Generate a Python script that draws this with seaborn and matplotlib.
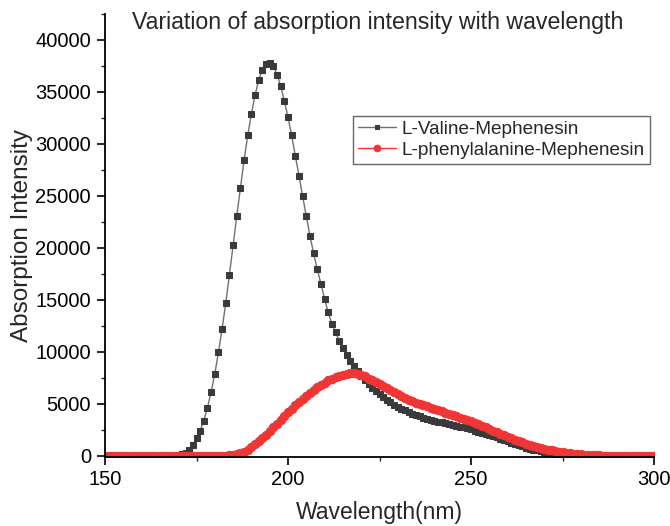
import numpy as np
import pandas as pd
import matplotlib
matplotlib.use("Agg")
import matplotlib.pyplot as plt
from matplotlib.ticker import MultipleLocator
import seaborn as sns

wavelength = list(range(150, 301))

valine = [0]*16 + [
    5, 10, 20, 40, 80, 170, 310, 580, 1060, 1690,            # 166-175
    2430, 3400, 4650, 6160, 7900, 9970, 12250, 14700, 17440, 20240,  # 176-185
    23080, 25780, 28450, 30820, 32900, 34700, 36150, 37140, 37700, 37810,  # 186-195
    37500, 36660, 35570, 34150, 32580, 30820, 28850, 26970, 24980, 23080,  # 196-205
    21150, 19490, 17950, 16550, 15100, 13800, 12700, 11900, 11050, 10350,  # 206-215
    9680, 9100, 8620, 8160, 7700, 7270, 6880, 6530, 6220, 5930,  # 216-225
    5660, 5420, 5180, 4950, 4740, 4550, 4380, 4220, 4070, 3930,  # 226-235
    3800, 3680, 3570, 3470, 3380, 3300, 3220, 3140, 3070, 2990,  # 236-245
    2910, 2830, 2740, 2650, 2550, 2450, 2350, 2250, 2140, 2020,  # 246-255
    1900, 1780, 1660, 1530, 1400, 1270, 1150, 1030, 920, 810,    # 256-265
    710, 620, 530, 450, 380, 320, 270, 220, 180, 150,            # 266-275
    120, 100, 80, 60, 50, 40, 30, 25, 20, 15,                    # 276-285
    12, 10, 10, 8, 8, 6, 6, 5, 5, 4, 4, 3, 3, 2, 2               # 286-300
]

phenylalanine = [0]*32 + [
    10, 30, 60, 110, 180, 290, 430, 620,                         # 182-189
    850, 1110, 1400, 1710, 2050, 2400, 2760, 3120, 3480, 3840,   # 190-199
    4190, 4530, 4860, 5180, 5490, 5790, 6070, 6340, 6600, 6840,  # 200-209
    7060, 7260, 7440, 7600, 7730, 7830, 7900, 7940, 7940, 7900,  # 210-219
    7800, 7680, 7450, 7260, 7070, 6880, 6690, 6500, 6310, 6130,  # 220-229
    5950, 5770, 5590, 5420, 5260, 5120, 4990, 4870, 4760, 4650,  # 230-239
    4540, 4420, 4300, 4180, 4060, 3940, 3820, 3700, 3580, 3460,  # 240-249
    3330, 3190, 3040, 2890, 2740, 2600, 2450, 2300, 2150, 2000,  # 250-259
    1850, 1710, 1580, 1450, 1320, 1200, 1080, 970, 870, 780,     # 260-269
    690, 610, 540, 470, 410, 360, 310, 270, 230, 190,            # 270-279
    160, 130, 110, 90, 70, 55, 45, 35, 30, 25,                   # 280-289
    20, 18, 16, 14, 12, 11, 10, 10, 10, 10, 10                   # 290-300
]

series_names = ["L-Valine-Mephenesin", "L-phenylalanine-Mephenesin"]
x_ticks = [150, 200, 250, 300]
y_ticks = list(range(0, 40001, 5000))

sns.set_style("ticks")
plt.rcParams["font.family"] = ["Liberation Sans", "DejaVu Sans"]

df = pd.DataFrame({
    "Wavelength": wavelength * 2,
    "Intensity": valine + phenylalanine,
    "Series": [series_names[0]] * len(wavelength) + [series_names[1]] * len(wavelength),
})

fig = plt.figure(figsize=(6.7, 5.26), dpi=100)
ax = fig.add_axes([105/670, 1 - 456.5/526, (654-105)/670, (456.5-14)/526])

sns.lineplot(data=df[df.Series == series_names[0]], x="Wavelength", y="Intensity",
             ax=ax, color="#707070", linewidth=1.0, marker="s", markersize=4.4,
             markerfacecolor="#3a3a3a", markeredgecolor="#3a3a3a",
             label=series_names[0], errorbar=None)
sns.lineplot(data=df[df.Series == series_names[1]], x="Wavelength", y="Intensity",
             ax=ax, color="#ff3030", linewidth=1.0, marker="o", markersize=6.0,
             markerfacecolor="#f03535", markeredgecolor="#f03535",
             label=series_names[1], errorbar=None)

ax.set_xlim(150, 300)
ax.set_ylim(-50, 42500)
ax.set_xticks(x_ticks)
ax.set_yticks(y_ticks)
ax.xaxis.set_minor_locator(MultipleLocator(25))
ax.yaxis.set_minor_locator(MultipleLocator(2500))
ax.tick_params(axis="both", which="major", direction="out", length=6, width=1.2,
               labelsize=14.5, colors="black", pad=4)
ax.tick_params(axis="both", which="minor", direction="out", length=3, width=1.0)
for side in ["left", "bottom"]:
    ax.spines[side].set_linewidth(1.3)
    ax.spines[side].set_color("black")
for side in ["top", "right"]:
    ax.spines[side].set_visible(False)

ax.set_xlabel("Wavelength(nm)", fontsize=16.5, labelpad=8)
ax.set_ylabel("Absorption Intensity", fontsize=17.5, labelpad=2)

fig.text(378/670, 1 - 22/526, "Variation of absorption intensity with wavelength",
         ha="center", va="center", fontsize=16.7)

leg = ax.legend(loc="upper left", bbox_to_anchor=(0.452, 0.77), borderaxespad=0,
                fontsize=13.7, frameon=True, fancybox=False, handlelength=2.0,
                borderpad=0.25, labelspacing=0.2, handletextpad=0.3,
                markerscale=0.8)
leg.get_frame().set_edgecolor("#404040")
leg.get_frame().set_linewidth(1.0)

fig.savefig("out.png", dpi=100)
